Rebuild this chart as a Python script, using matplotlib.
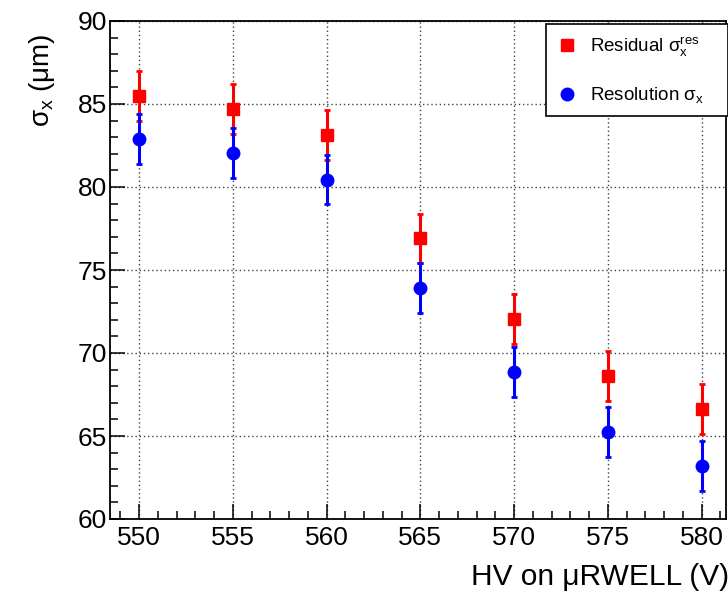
import matplotlib
matplotlib.use("Agg")
import matplotlib.pyplot as plt
from matplotlib.lines import Line2D
from matplotlib.ticker import MultipleLocator

plt.rcParams['font.family'] = ['Liberation Sans', 'DejaVu Sans']
plt.rcParams['mathtext.fontset'] = 'custom'
plt.rcParams['mathtext.rm'] = 'Liberation Sans'
plt.rcParams['mathtext.it'] = 'Liberation Sans:italic'

# HV scan of the uRWELL detector
hv = [550, 555, 560, 565, 570, 575, 580]
residual = [85.5, 84.7, 83.15, 76.9, 72.05, 68.6, 66.65]
residual_err = [1.5, 1.5, 1.5, 1.5, 1.5, 1.5, 1.5]
resolution = [82.9, 82.05, 80.45, 73.9, 68.85, 65.25, 63.2]
resolution_err = [1.5, 1.5, 1.5, 1.5, 1.5, 1.5, 1.5]

W, H = 728, 592
fig = plt.figure(figsize=(W / 100, H / 100), dpi=100)
ax = fig.add_axes([110 / W, 73 / H, 616 / W, 498 / H])

ax.errorbar(hv, residual, yerr=residual_err, fmt='s', color='red', ms=8.6,
            elinewidth=2.2, capsize=2.2, capthick=2, zorder=3)
ax.errorbar(hv, resolution, yerr=resolution_err, fmt='o', color='blue', ms=9,
            elinewidth=2.2, capsize=2.2, capthick=2, zorder=4)

ax.set_xlim(548.45, 581.3)
ax.set_ylim(60, 90)
ax.xaxis.set_major_locator(MultipleLocator(5))
ax.xaxis.set_minor_locator(MultipleLocator(1))
ax.yaxis.set_major_locator(MultipleLocator(5))
ax.yaxis.set_minor_locator(MultipleLocator(1))
ax.tick_params(which='both', direction='in', width=1.1, colors='black',
               labelsize=19)
ax.tick_params(which='major', length=11)
ax.tick_params(which='minor', length=6)
ax.tick_params(axis='x', pad=5)
ax.tick_params(axis='y', pad=2)
ax.grid(True, which='major', linestyle=(0, (1, 2)), color='#444444', lw=1)
ax.set_axisbelow(True)
for s in ax.spines.values():
    s.set_linewidth(1.3)

fig.text(471 / W, 1 - 585 / H, 'HV on \u03bcRWELL (V)', fontsize=21.5,
         ha='left', va='baseline')
fig.text(42 / W, 1 - 33 / H, 'σ$_\\mathregular{x}$ (μm)', fontsize=20,
         rotation=90, ha='center', va='top')

fig.text(713 / W, 1 + 12 / H, '(2023)', fontsize=30, ha='right',
         va='baseline')

handles = [Line2D([], [], ls='none', marker='s', color='red', ms=8.6),
           Line2D([], [], ls='none', marker='o', color='blue', ms=9)]
labels = ['Residual σ$_\\mathregular{x}^\\mathregular{res}$',
          'Resolution σ$_\\mathregular{x}$']
leg = ax.legend(handles, labels, loc='upper left',
                bbox_to_anchor=(546 / W, 473 / H, 182 / W, 95 / H),
                bbox_transform=fig.transFigure, mode='expand',
                borderaxespad=0, fontsize=13.5, frameon=True, fancybox=False,
                edgecolor='black', framealpha=1, borderpad=0.6,
                labelspacing=1.4, handlelength=1.0, handletextpad=0.75)
leg.get_frame().set_linewidth(1.2)

fig.savefig('out.png', dpi=100)
